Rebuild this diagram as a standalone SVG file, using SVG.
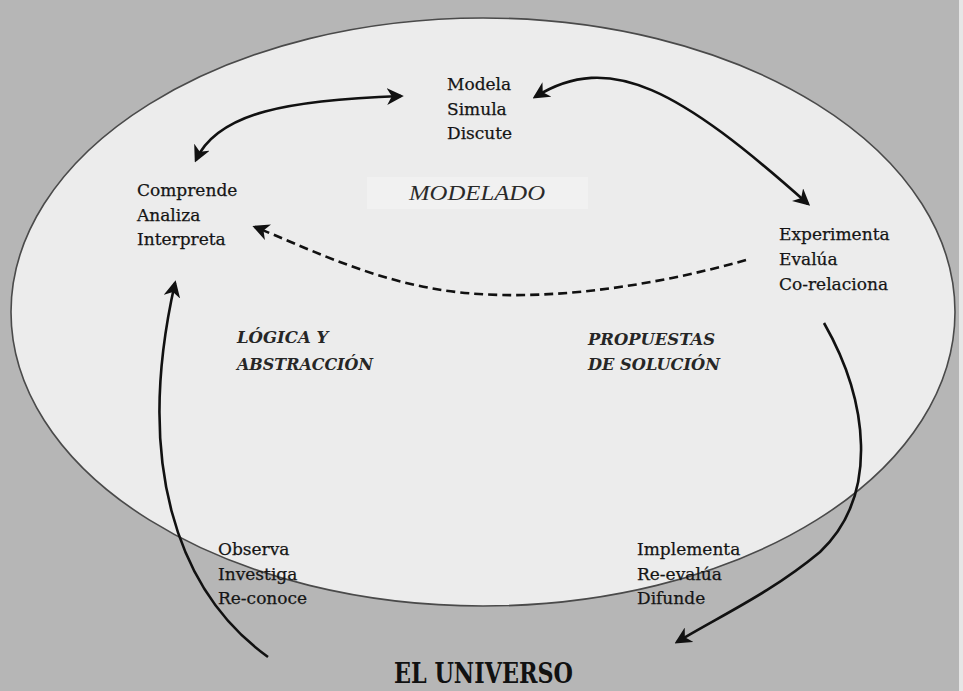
<svg xmlns="http://www.w3.org/2000/svg" width="963" height="691" viewBox="0 0 963 691">
<style>
.t{font-family:"DejaVu Serif","Liberation Serif",serif;font-size:17px;fill:#151515;stroke:#151515;stroke-width:0.25}
.b{font-family:"DejaVu Serif","Liberation Serif",serif;font-size:16.5px;font-weight:bold;font-style:italic;fill:#262626}
.c{fill:none;stroke:#111;stroke-width:2.6}
.d{fill:none;stroke:#111;stroke-width:2.6;stroke-dasharray:9 5}
</style>
<defs>
<marker id="ah" viewBox="0 0 12 12" refX="10" refY="6" markerWidth="6.5" markerHeight="6.5" orient="auto-start-reverse" markerUnits="strokeWidth">
<path d="M0,0 L12,6 L0,12 L3.5,6 z" fill="#111"/>
</marker>
</defs>
<rect x="0" y="0" width="963" height="691" fill="#b6b6b6"/>
<rect x="959" y="0" width="4" height="691" fill="#e6e6e6"/>
<g id="universe">
<ellipse cx="483" cy="312" rx="472" ry="294" fill="#ececec" stroke="#4a4a4a" stroke-width="1.6"/>
</g>
<g id="modelado">
<rect x="367" y="177" width="221" height="32" fill="#f1f1f1"/>
<text x="409" y="200" font-family="Liberation Serif, serif" font-style="italic" font-size="21" fill="#2a2a2a" textLength="136" lengthAdjust="spacingAndGlyphs">MODELADO</text>
</g>
<g id="connectors">
<path class="c" d="M196,160 C218,112 290,100 401,96" marker-start="url(#ah)" marker-end="url(#ah)"/>
<path class="c" d="M535,97 C610,50 680,90 808,204" marker-start="url(#ah)" marker-end="url(#ah)"/>
<path class="d" d="M746,260 C640,290 520,305 430,288 C360,275 300,245 255,227" marker-end="url(#ah)"/>
<path class="c" d="M268,657 C175,590 135,460 175,283" marker-end="url(#ah)"/>
<path class="c" d="M824,323 C868,400 880,495 820,552 C772,592 722,615 677,642" marker-end="url(#ah)"/>
</g>
<g id="node-modela">
<text class="t" x="447" y="90">Modela</text>
<text class="t" x="447" y="115">Simula</text>
<text class="t" x="447" y="139">Discute</text>
</g>
<g id="node-comprende">
<text class="t" x="137" y="196">Comprende</text>
<text class="t" x="137" y="221">Analiza</text>
<text class="t" x="137" y="245">Interpreta</text>
</g>
<g id="node-experimenta">
<text class="t" x="779" y="240">Experimenta</text>
<text class="t" x="779" y="265">Evalúa</text>
<text class="t" x="779" y="290">Co-relaciona</text>
</g>
<g id="label-logica">
<text class="b" x="237" y="343">LÓGICA Y</text>
<text class="b" x="237" y="370" textLength="136" lengthAdjust="spacingAndGlyphs">ABSTRACCIÓN</text>
</g>
<g id="label-propuestas">
<text class="b" x="588" y="345" textLength="127" lengthAdjust="spacingAndGlyphs">PROPUESTAS</text>
<text class="b" x="588" y="370" textLength="132" lengthAdjust="spacingAndGlyphs">DE SOLUCIÓN</text>
</g>
<g id="node-observa">
<text class="t" x="218" y="555">Observa</text>
<text class="t" x="218" y="580">Investiga</text>
<text class="t" x="218" y="604">Re-conoce</text>
</g>
<g id="node-implementa">
<text class="t" x="637" y="555">Implementa</text>
<text class="t" x="637" y="580">Re-evalúa</text>
<text class="t" x="637" y="604">Difunde</text>
</g>
<g id="node-universo">
<text x="394" y="683" font-family="DejaVu Serif, Liberation Serif, serif" font-weight="bold" font-size="27" fill="#111" textLength="179" lengthAdjust="spacingAndGlyphs">EL UNIVERSO</text>
</g>
</svg>
